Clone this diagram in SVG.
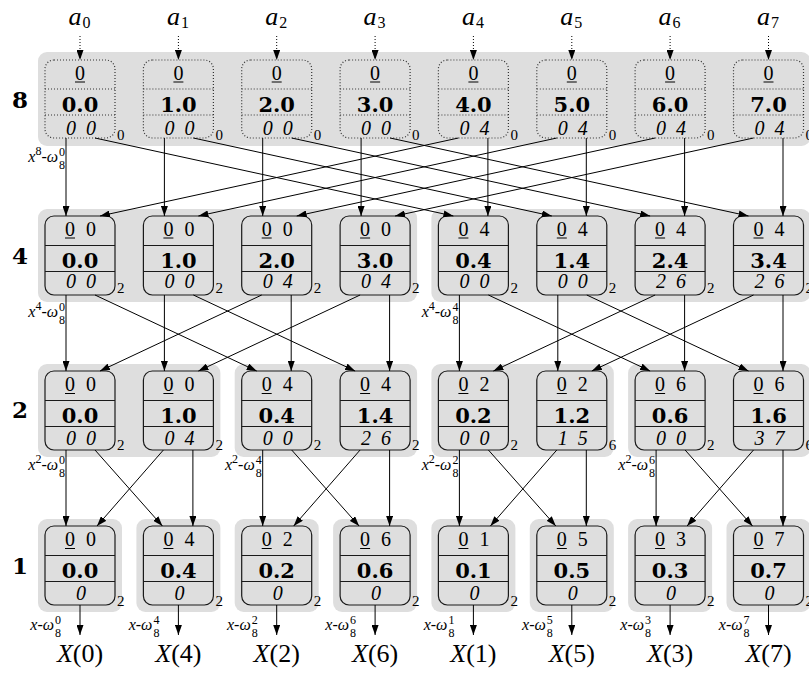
<svg xmlns="http://www.w3.org/2000/svg" width="809" height="673" viewBox="0 0 809 673">
<style>
.bg{fill:#dedede}
.box{fill:none;stroke:#1a1a1a;stroke-width:1.2}
.dbox{fill:none;stroke:#333;stroke-width:1.2;stroke-dasharray:1 2}
.dv{stroke:#1a1a1a;stroke-width:1.2}
.dd{stroke:#333;stroke-width:1.2;stroke-dasharray:1 2}
.ul{stroke:#000;stroke-width:1}
text{font-family:"Liberation Serif","Times New Roman",Times,"DejaVu Serif",serif}
.t{font-size:20px;text-anchor:middle}
.m{font-family:"DejaVu Serif",serif;font-weight:bold;font-size:21px;text-anchor:middle}
.b{font-style:italic;font-size:20px;text-anchor:middle}
.s{font-size:15px}
.rl{font-family:"DejaVu Serif",serif;font-weight:bold;font-size:23px;text-anchor:middle}
.c{stroke:#000;stroke-width:1;fill:none;marker-end:url(#ah)}
.dc{stroke:#000;stroke-width:1;fill:none;stroke-dasharray:1 2;marker-end:url(#ah)}
.lab{font-size:16px;text-anchor:end}
.sm{font-size:12px;text-anchor:middle}
.i{font-style:italic}
.big{font-size:26px;text-anchor:middle}
.ai{font-style:italic;font-size:26px;text-anchor:middle}
.as{font-size:16px}
</style>
<defs>
<marker id="ah" viewBox="0 0 10 7" refX="10" refY="3.5" markerWidth="10" markerHeight="7" markerUnits="userSpaceOnUse" orient="auto"><path d="M0,0 L10,3.5 L0,7 z" fill="#000"/></marker>
</defs>

<g id="backgrounds">
<rect class="bg" x="38" y="52" width="772.5" height="94" rx="9"/>
<rect class="bg" x="38" y="209" width="379.1" height="93" rx="9"/>
<rect class="bg" x="431.4" y="209" width="379.1" height="93" rx="9"/>
<rect class="bg" x="38" y="364" width="182.4" height="93" rx="9"/>
<rect class="bg" x="234.7" y="364" width="182.4" height="93" rx="9"/>
<rect class="bg" x="431.4" y="364" width="182.4" height="93" rx="9"/>
<rect class="bg" x="628.1" y="364" width="182.4" height="93" rx="9"/>
<rect class="bg" x="38" y="519" width="84" height="93" rx="9"/>
<rect class="bg" x="136.4" y="519" width="84" height="93" rx="9"/>
<rect class="bg" x="234.7" y="519" width="84" height="93" rx="9"/>
<rect class="bg" x="333.1" y="519" width="84" height="93" rx="9"/>
<rect class="bg" x="431.4" y="519" width="84" height="93" rx="9"/>
<rect class="bg" x="529.8" y="519" width="84" height="93" rx="9"/>
<rect class="bg" x="628.1" y="519" width="84" height="93" rx="9"/>
<rect class="bg" x="726.5" y="519" width="84" height="93" rx="9"/>
</g>

<g id="row-labels">
<text class="rl" x="20" y="108">8</text>
<text class="rl" x="20" y="264">4</text>
<text class="rl" x="20" y="418">2</text>
<text class="rl" x="20" y="574">1</text>
</g>

<g id="inputs">
<text class="ai" x="75" y="25">a</text><text class="as" x="82.5" y="28">0</text>
<text class="ai" x="173.4" y="25">a</text><text class="as" x="180.9" y="28">1</text>
<text class="ai" x="271.7" y="25">a</text><text class="as" x="279.2" y="28">2</text>
<text class="ai" x="370.1" y="25">a</text><text class="as" x="377.6" y="28">3</text>
<text class="ai" x="468.4" y="25">a</text><text class="as" x="475.9" y="28">4</text>
<text class="ai" x="566.8" y="25">a</text><text class="as" x="574.3" y="28">5</text>
<text class="ai" x="665.1" y="25">a</text><text class="as" x="672.6" y="28">6</text>
<text class="ai" x="763.5" y="25">a</text><text class="as" x="771" y="28">7</text>
</g>

<!-- Row 8 -->
<g id="n8_0" transform="translate(80,60)"><rect class="dbox" x="-35" y="0" width="70" height="78" rx="9"/><line class="dd" x1="-35" y1="29" x2="35" y2="29"/><line class="dd" x1="-35" y1="55" x2="35" y2="55"/><text class="t" x="0" y="19.5">0</text><line class="ul" x1="-5" y1="22" x2="5" y2="22"/><text class="m" x="0" y="51.5">0.0</text><text class="b" x="-9" y="75">0</text><text class="b" x="11" y="75">0</text><text class="s" x="37" y="80">0</text></g>
<g id="n8_1" transform="translate(178.4,60)"><rect class="dbox" x="-35" y="0" width="70" height="78" rx="9"/><line class="dd" x1="-35" y1="29" x2="35" y2="29"/><line class="dd" x1="-35" y1="55" x2="35" y2="55"/><text class="t" x="0" y="19.5">0</text><line class="ul" x1="-5" y1="22" x2="5" y2="22"/><text class="m" x="0" y="51.5">1.0</text><text class="b" x="-9" y="75">0</text><text class="b" x="11" y="75">0</text><text class="s" x="37" y="80">0</text></g>
<g id="n8_2" transform="translate(276.7,60)"><rect class="dbox" x="-35" y="0" width="70" height="78" rx="9"/><line class="dd" x1="-35" y1="29" x2="35" y2="29"/><line class="dd" x1="-35" y1="55" x2="35" y2="55"/><text class="t" x="0" y="19.5">0</text><line class="ul" x1="-5" y1="22" x2="5" y2="22"/><text class="m" x="0" y="51.5">2.0</text><text class="b" x="-9" y="75">0</text><text class="b" x="11" y="75">0</text><text class="s" x="37" y="80">0</text></g>
<g id="n8_3" transform="translate(375.1,60)"><rect class="dbox" x="-35" y="0" width="70" height="78" rx="9"/><line class="dd" x1="-35" y1="29" x2="35" y2="29"/><line class="dd" x1="-35" y1="55" x2="35" y2="55"/><text class="t" x="0" y="19.5">0</text><line class="ul" x1="-5" y1="22" x2="5" y2="22"/><text class="m" x="0" y="51.5">3.0</text><text class="b" x="-9" y="75">0</text><text class="b" x="11" y="75">0</text><text class="s" x="37" y="80">0</text></g>
<g id="n8_4" transform="translate(473.4,60)"><rect class="dbox" x="-35" y="0" width="70" height="78" rx="9"/><line class="dd" x1="-35" y1="29" x2="35" y2="29"/><line class="dd" x1="-35" y1="55" x2="35" y2="55"/><text class="t" x="0" y="19.5">0</text><line class="ul" x1="-5" y1="22" x2="5" y2="22"/><text class="m" x="0" y="51.5">4.0</text><text class="b" x="-9" y="75">0</text><text class="b" x="11" y="75">4</text><text class="s" x="37" y="80">0</text></g>
<g id="n8_5" transform="translate(571.8,60)"><rect class="dbox" x="-35" y="0" width="70" height="78" rx="9"/><line class="dd" x1="-35" y1="29" x2="35" y2="29"/><line class="dd" x1="-35" y1="55" x2="35" y2="55"/><text class="t" x="0" y="19.5">0</text><line class="ul" x1="-5" y1="22" x2="5" y2="22"/><text class="m" x="0" y="51.5">5.0</text><text class="b" x="-9" y="75">0</text><text class="b" x="11" y="75">4</text><text class="s" x="37" y="80">0</text></g>
<g id="n8_6" transform="translate(670.1,60)"><rect class="dbox" x="-35" y="0" width="70" height="78" rx="9"/><line class="dd" x1="-35" y1="29" x2="35" y2="29"/><line class="dd" x1="-35" y1="55" x2="35" y2="55"/><text class="t" x="0" y="19.5">0</text><line class="ul" x1="-5" y1="22" x2="5" y2="22"/><text class="m" x="0" y="51.5">6.0</text><text class="b" x="-9" y="75">0</text><text class="b" x="11" y="75">4</text><text class="s" x="37" y="80">0</text></g>
<g id="n8_7" transform="translate(768.5,60)"><rect class="dbox" x="-35" y="0" width="70" height="78" rx="9"/><line class="dd" x1="-35" y1="29" x2="35" y2="29"/><line class="dd" x1="-35" y1="55" x2="35" y2="55"/><text class="t" x="0" y="19.5">0</text><line class="ul" x1="-5" y1="22" x2="5" y2="22"/><text class="m" x="0" y="51.5">7.0</text><text class="b" x="-9" y="75">0</text><text class="b" x="11" y="75">4</text><text class="s" x="37" y="80">0</text></g>

<!-- Row 4 -->
<g id="n4_0" transform="translate(80,216)"><rect class="box" x="-35" y="0" width="70" height="79" rx="9"/><line class="dv" x1="-35" y1="29.5" x2="35" y2="29.5"/><line class="dv" x1="-35" y1="55.5" x2="35" y2="55.5"/><text class="t" x="-10" y="19.5">0</text><line class="ul" x1="-15" y1="22" x2="-5" y2="22"/><text class="t" x="11" y="19.5">0</text><text class="m" x="0" y="51.5">0.0</text><text class="b" x="-9" y="72">0</text><text class="b" x="11" y="72">0</text><text class="s" x="37" y="77">2</text></g>
<g id="n4_1" transform="translate(178.4,216)"><rect class="box" x="-35" y="0" width="70" height="79" rx="9"/><line class="dv" x1="-35" y1="29.5" x2="35" y2="29.5"/><line class="dv" x1="-35" y1="55.5" x2="35" y2="55.5"/><text class="t" x="-10" y="19.5">0</text><line class="ul" x1="-15" y1="22" x2="-5" y2="22"/><text class="t" x="11" y="19.5">0</text><text class="m" x="0" y="51.5">1.0</text><text class="b" x="-9" y="72">0</text><text class="b" x="11" y="72">0</text><text class="s" x="37" y="77">2</text></g>
<g id="n4_2" transform="translate(276.7,216)"><rect class="box" x="-35" y="0" width="70" height="79" rx="9"/><line class="dv" x1="-35" y1="29.5" x2="35" y2="29.5"/><line class="dv" x1="-35" y1="55.5" x2="35" y2="55.5"/><text class="t" x="-10" y="19.5">0</text><line class="ul" x1="-15" y1="22" x2="-5" y2="22"/><text class="t" x="11" y="19.5">0</text><text class="m" x="0" y="51.5">2.0</text><text class="b" x="-9" y="72">0</text><text class="b" x="11" y="72">4</text><text class="s" x="37" y="77">2</text></g>
<g id="n4_3" transform="translate(375.1,216)"><rect class="box" x="-35" y="0" width="70" height="79" rx="9"/><line class="dv" x1="-35" y1="29.5" x2="35" y2="29.5"/><line class="dv" x1="-35" y1="55.5" x2="35" y2="55.5"/><text class="t" x="-10" y="19.5">0</text><line class="ul" x1="-15" y1="22" x2="-5" y2="22"/><text class="t" x="11" y="19.5">0</text><text class="m" x="0" y="51.5">3.0</text><text class="b" x="-9" y="72">0</text><text class="b" x="11" y="72">4</text><text class="s" x="37" y="77">2</text></g>
<g id="n4_4" transform="translate(473.4,216)"><rect class="box" x="-35" y="0" width="70" height="79" rx="9"/><line class="dv" x1="-35" y1="29.5" x2="35" y2="29.5"/><line class="dv" x1="-35" y1="55.5" x2="35" y2="55.5"/><text class="t" x="-10" y="19.5">0</text><line class="ul" x1="-15" y1="22" x2="-5" y2="22"/><text class="t" x="11" y="19.5">4</text><text class="m" x="0" y="51.5">0.4</text><text class="b" x="-9" y="72">0</text><text class="b" x="11" y="72">0</text><text class="s" x="37" y="77">2</text></g>
<g id="n4_5" transform="translate(571.8,216)"><rect class="box" x="-35" y="0" width="70" height="79" rx="9"/><line class="dv" x1="-35" y1="29.5" x2="35" y2="29.5"/><line class="dv" x1="-35" y1="55.5" x2="35" y2="55.5"/><text class="t" x="-10" y="19.5">0</text><line class="ul" x1="-15" y1="22" x2="-5" y2="22"/><text class="t" x="11" y="19.5">4</text><text class="m" x="0" y="51.5">1.4</text><text class="b" x="-9" y="72">0</text><text class="b" x="11" y="72">0</text><text class="s" x="37" y="77">2</text></g>
<g id="n4_6" transform="translate(670.1,216)"><rect class="box" x="-35" y="0" width="70" height="79" rx="9"/><line class="dv" x1="-35" y1="29.5" x2="35" y2="29.5"/><line class="dv" x1="-35" y1="55.5" x2="35" y2="55.5"/><text class="t" x="-10" y="19.5">0</text><line class="ul" x1="-15" y1="22" x2="-5" y2="22"/><text class="t" x="11" y="19.5">4</text><text class="m" x="0" y="51.5">2.4</text><text class="b" x="-9" y="72">2</text><text class="b" x="11" y="72">6</text><text class="s" x="37" y="77">2</text></g>
<g id="n4_7" transform="translate(768.5,216)"><rect class="box" x="-35" y="0" width="70" height="79" rx="9"/><line class="dv" x1="-35" y1="29.5" x2="35" y2="29.5"/><line class="dv" x1="-35" y1="55.5" x2="35" y2="55.5"/><text class="t" x="-10" y="19.5">0</text><line class="ul" x1="-15" y1="22" x2="-5" y2="22"/><text class="t" x="11" y="19.5">4</text><text class="m" x="0" y="51.5">3.4</text><text class="b" x="-9" y="72">2</text><text class="b" x="11" y="72">6</text><text class="s" x="37" y="77">2</text></g>

<!-- Row 2 -->
<g id="n2_0" transform="translate(80,371)"><rect class="box" x="-35" y="0" width="70" height="79" rx="9"/><line class="dv" x1="-35" y1="29.5" x2="35" y2="29.5"/><line class="dv" x1="-35" y1="55.5" x2="35" y2="55.5"/><text class="t" x="-10" y="20">0</text><line class="ul" x1="-15" y1="22.5" x2="-5" y2="22.5"/><text class="t" x="11" y="20">0</text><text class="m" x="0" y="51.5">0.0</text><text class="b" x="-9" y="74">0</text><text class="b" x="11" y="74">0</text><text class="s" x="37" y="79">2</text></g>
<g id="n2_1" transform="translate(178.4,371)"><rect class="box" x="-35" y="0" width="70" height="79" rx="9"/><line class="dv" x1="-35" y1="29.5" x2="35" y2="29.5"/><line class="dv" x1="-35" y1="55.5" x2="35" y2="55.5"/><text class="t" x="-10" y="20">0</text><line class="ul" x1="-15" y1="22.5" x2="-5" y2="22.5"/><text class="t" x="11" y="20">0</text><text class="m" x="0" y="51.5">1.0</text><text class="b" x="-9" y="74">0</text><text class="b" x="11" y="74">4</text><text class="s" x="37" y="79">2</text></g>
<g id="n2_2" transform="translate(276.7,371)"><rect class="box" x="-35" y="0" width="70" height="79" rx="9"/><line class="dv" x1="-35" y1="29.5" x2="35" y2="29.5"/><line class="dv" x1="-35" y1="55.5" x2="35" y2="55.5"/><text class="t" x="-10" y="20">0</text><line class="ul" x1="-15" y1="22.5" x2="-5" y2="22.5"/><text class="t" x="11" y="20">4</text><text class="m" x="0" y="51.5">0.4</text><text class="b" x="-9" y="74">0</text><text class="b" x="11" y="74">0</text><text class="s" x="37" y="79">2</text></g>
<g id="n2_3" transform="translate(375.1,371)"><rect class="box" x="-35" y="0" width="70" height="79" rx="9"/><line class="dv" x1="-35" y1="29.5" x2="35" y2="29.5"/><line class="dv" x1="-35" y1="55.5" x2="35" y2="55.5"/><text class="t" x="-10" y="20">0</text><line class="ul" x1="-15" y1="22.5" x2="-5" y2="22.5"/><text class="t" x="11" y="20">4</text><text class="m" x="0" y="51.5">1.4</text><text class="b" x="-9" y="74">2</text><text class="b" x="11" y="74">6</text><text class="s" x="37" y="79">2</text></g>
<g id="n2_4" transform="translate(473.4,371)"><rect class="box" x="-35" y="0" width="70" height="79" rx="9"/><line class="dv" x1="-35" y1="29.5" x2="35" y2="29.5"/><line class="dv" x1="-35" y1="55.5" x2="35" y2="55.5"/><text class="t" x="-10" y="20">0</text><line class="ul" x1="-15" y1="22.5" x2="-5" y2="22.5"/><text class="t" x="11" y="20">2</text><text class="m" x="0" y="51.5">0.2</text><text class="b" x="-9" y="74">0</text><text class="b" x="11" y="74">0</text><text class="s" x="37" y="79">2</text></g>
<g id="n2_5" transform="translate(571.8,371)"><rect class="box" x="-35" y="0" width="70" height="79" rx="9"/><line class="dv" x1="-35" y1="29.5" x2="35" y2="29.5"/><line class="dv" x1="-35" y1="55.5" x2="35" y2="55.5"/><text class="t" x="-10" y="20">0</text><line class="ul" x1="-15" y1="22.5" x2="-5" y2="22.5"/><text class="t" x="11" y="20">2</text><text class="m" x="0" y="51.5">1.2</text><text class="b" x="-9" y="74">1</text><text class="b" x="11" y="74">5</text><text class="s" x="37" y="79">6</text></g>
<g id="n2_6" transform="translate(670.1,371)"><rect class="box" x="-35" y="0" width="70" height="79" rx="9"/><line class="dv" x1="-35" y1="29.5" x2="35" y2="29.5"/><line class="dv" x1="-35" y1="55.5" x2="35" y2="55.5"/><text class="t" x="-10" y="20">0</text><line class="ul" x1="-15" y1="22.5" x2="-5" y2="22.5"/><text class="t" x="11" y="20">6</text><text class="m" x="0" y="51.5">0.6</text><text class="b" x="-9" y="74">0</text><text class="b" x="11" y="74">0</text><text class="s" x="37" y="79">2</text></g>
<g id="n2_7" transform="translate(768.5,371)"><rect class="box" x="-35" y="0" width="70" height="79" rx="9"/><line class="dv" x1="-35" y1="29.5" x2="35" y2="29.5"/><line class="dv" x1="-35" y1="55.5" x2="35" y2="55.5"/><text class="t" x="-10" y="20">0</text><line class="ul" x1="-15" y1="22.5" x2="-5" y2="22.5"/><text class="t" x="11" y="20">6</text><text class="m" x="0" y="51.5">1.6</text><text class="b" x="-9" y="74">3</text><text class="b" x="11" y="74">7</text><text class="s" x="37" y="79">6</text></g>

<!-- Row 1 -->
<g id="n1_0" transform="translate(80,526)"><rect class="box" x="-35" y="0" width="70" height="79" rx="9"/><line class="dv" x1="-35" y1="29.5" x2="35" y2="29.5"/><line class="dv" x1="-35" y1="55.5" x2="35" y2="55.5"/><text class="t" x="-10" y="20">0</text><line class="ul" x1="-15" y1="22.5" x2="-5" y2="22.5"/><text class="t" x="11" y="20">0</text><text class="m" x="0" y="51.5">0.0</text><text class="b" x="1" y="74">0</text><text class="s" x="37" y="80">2</text></g>
<g id="n1_1" transform="translate(178.4,526)"><rect class="box" x="-35" y="0" width="70" height="79" rx="9"/><line class="dv" x1="-35" y1="29.5" x2="35" y2="29.5"/><line class="dv" x1="-35" y1="55.5" x2="35" y2="55.5"/><text class="t" x="-10" y="20">0</text><line class="ul" x1="-15" y1="22.5" x2="-5" y2="22.5"/><text class="t" x="11" y="20">4</text><text class="m" x="0" y="51.5">0.4</text><text class="b" x="1" y="74">0</text><text class="s" x="37" y="80">2</text></g>
<g id="n1_2" transform="translate(276.7,526)"><rect class="box" x="-35" y="0" width="70" height="79" rx="9"/><line class="dv" x1="-35" y1="29.5" x2="35" y2="29.5"/><line class="dv" x1="-35" y1="55.5" x2="35" y2="55.5"/><text class="t" x="-10" y="20">0</text><line class="ul" x1="-15" y1="22.5" x2="-5" y2="22.5"/><text class="t" x="11" y="20">2</text><text class="m" x="0" y="51.5">0.2</text><text class="b" x="1" y="74">0</text><text class="s" x="37" y="80">2</text></g>
<g id="n1_3" transform="translate(375.1,526)"><rect class="box" x="-35" y="0" width="70" height="79" rx="9"/><line class="dv" x1="-35" y1="29.5" x2="35" y2="29.5"/><line class="dv" x1="-35" y1="55.5" x2="35" y2="55.5"/><text class="t" x="-10" y="20">0</text><line class="ul" x1="-15" y1="22.5" x2="-5" y2="22.5"/><text class="t" x="11" y="20">6</text><text class="m" x="0" y="51.5">0.6</text><text class="b" x="1" y="74">0</text><text class="s" x="37" y="80">2</text></g>
<g id="n1_4" transform="translate(473.4,526)"><rect class="box" x="-35" y="0" width="70" height="79" rx="9"/><line class="dv" x1="-35" y1="29.5" x2="35" y2="29.5"/><line class="dv" x1="-35" y1="55.5" x2="35" y2="55.5"/><text class="t" x="-10" y="20">0</text><line class="ul" x1="-15" y1="22.5" x2="-5" y2="22.5"/><text class="t" x="11" y="20">1</text><text class="m" x="0" y="51.5">0.1</text><text class="b" x="1" y="74">0</text><text class="s" x="37" y="80">2</text></g>
<g id="n1_5" transform="translate(571.8,526)"><rect class="box" x="-35" y="0" width="70" height="79" rx="9"/><line class="dv" x1="-35" y1="29.5" x2="35" y2="29.5"/><line class="dv" x1="-35" y1="55.5" x2="35" y2="55.5"/><text class="t" x="-10" y="20">0</text><line class="ul" x1="-15" y1="22.5" x2="-5" y2="22.5"/><text class="t" x="11" y="20">5</text><text class="m" x="0" y="51.5">0.5</text><text class="b" x="1" y="74">0</text><text class="s" x="37" y="80">2</text></g>
<g id="n1_6" transform="translate(670.1,526)"><rect class="box" x="-35" y="0" width="70" height="79" rx="9"/><line class="dv" x1="-35" y1="29.5" x2="35" y2="29.5"/><line class="dv" x1="-35" y1="55.5" x2="35" y2="55.5"/><text class="t" x="-10" y="20">0</text><line class="ul" x1="-15" y1="22.5" x2="-5" y2="22.5"/><text class="t" x="11" y="20">3</text><text class="m" x="0" y="51.5">0.3</text><text class="b" x="1" y="74">0</text><text class="s" x="37" y="80">2</text></g>
<g id="n1_7" transform="translate(768.5,526)"><rect class="box" x="-35" y="0" width="70" height="79" rx="9"/><line class="dv" x1="-35" y1="29.5" x2="35" y2="29.5"/><line class="dv" x1="-35" y1="55.5" x2="35" y2="55.5"/><text class="t" x="-10" y="20">0</text><line class="ul" x1="-15" y1="22.5" x2="-5" y2="22.5"/><text class="t" x="11" y="20">7</text><text class="m" x="0" y="51.5">0.7</text><text class="b" x="1" y="74">0</text><text class="s" x="37" y="80">2</text></g>

<g id="connectors">
<line class="dc" x1="80" y1="36" x2="80" y2="60"/>
<line class="dc" x1="178.4" y1="36" x2="178.4" y2="60"/>
<line class="dc" x1="276.7" y1="36" x2="276.7" y2="60"/>
<line class="dc" x1="375.1" y1="36" x2="375.1" y2="60"/>
<line class="dc" x1="473.4" y1="36" x2="473.4" y2="60"/>
<line class="dc" x1="571.8" y1="36" x2="571.8" y2="60"/>
<line class="dc" x1="670.1" y1="36" x2="670.1" y2="60"/>
<line class="dc" x1="768.5" y1="36" x2="768.5" y2="60"/>

<line class="c" x1="66" y1="138" x2="66" y2="216"/>
<line class="c" x1="95" y1="138" x2="453.4" y2="216"/>
<line class="c" x1="164.4" y1="138" x2="164.4" y2="216"/>
<line class="c" x1="193.4" y1="138" x2="551.8" y2="216"/>
<line class="c" x1="262.7" y1="138" x2="262.7" y2="216"/>
<line class="c" x1="291.7" y1="138" x2="650.1" y2="216"/>
<line class="c" x1="361.1" y1="138" x2="361.1" y2="216"/>
<line class="c" x1="390.1" y1="138" x2="748.5" y2="216"/>
<line class="c" x1="487.9" y1="138" x2="487.9" y2="216"/>
<line class="c" x1="458.4" y1="138" x2="100" y2="216"/>
<line class="c" x1="586.3" y1="138" x2="586.3" y2="216"/>
<line class="c" x1="556.8" y1="138" x2="198.4" y2="216"/>
<line class="c" x1="684.6" y1="138" x2="684.6" y2="216"/>
<line class="c" x1="655.1" y1="138" x2="296.7" y2="216"/>
<line class="c" x1="783" y1="138" x2="783" y2="216"/>
<line class="c" x1="753.5" y1="138" x2="395.1" y2="216"/>

<line class="c" x1="66" y1="295" x2="66" y2="371"/>
<line class="c" x1="95" y1="295" x2="256.7" y2="371"/>
<line class="c" x1="164.4" y1="295" x2="164.4" y2="371"/>
<line class="c" x1="193.4" y1="295" x2="355.1" y2="371"/>
<line class="c" x1="291.2" y1="295" x2="291.2" y2="371"/>
<line class="c" x1="261.7" y1="295" x2="100" y2="371"/>
<line class="c" x1="389.6" y1="295" x2="389.6" y2="371"/>
<line class="c" x1="360.1" y1="295" x2="198.4" y2="371"/>
<line class="c" x1="459.4" y1="295" x2="459.4" y2="371"/>
<line class="c" x1="488.4" y1="295" x2="650.1" y2="371"/>
<line class="c" x1="557.8" y1="295" x2="557.8" y2="371"/>
<line class="c" x1="586.8" y1="295" x2="748.5" y2="371"/>
<line class="c" x1="684.6" y1="295" x2="684.6" y2="371"/>
<line class="c" x1="655.1" y1="295" x2="493.4" y2="371"/>
<line class="c" x1="783" y1="295" x2="783" y2="371"/>
<line class="c" x1="753.5" y1="295" x2="591.8" y2="371"/>

<line class="c" x1="66" y1="450" x2="66" y2="526"/>
<line class="c" x1="95" y1="450" x2="162.4" y2="526"/>
<line class="c" x1="192.9" y1="450" x2="192.9" y2="526"/>
<line class="c" x1="163.4" y1="450" x2="97" y2="526"/>
<line class="c" x1="262.7" y1="450" x2="262.7" y2="526"/>
<line class="c" x1="291.7" y1="450" x2="359.1" y2="526"/>
<line class="c" x1="389.6" y1="450" x2="389.6" y2="526"/>
<line class="c" x1="360.1" y1="450" x2="293.7" y2="526"/>
<line class="c" x1="459.4" y1="450" x2="459.4" y2="526"/>
<line class="c" x1="488.4" y1="450" x2="555.8" y2="526"/>
<line class="c" x1="586.3" y1="450" x2="586.3" y2="526"/>
<line class="c" x1="556.8" y1="450" x2="490.4" y2="526"/>
<line class="c" x1="656.1" y1="450" x2="656.1" y2="526"/>
<line class="c" x1="685.1" y1="450" x2="752.5" y2="526"/>
<line class="c" x1="783" y1="450" x2="783" y2="526"/>
<line class="c" x1="753.5" y1="450" x2="687.1" y2="526"/>

<line class="c" x1="80" y1="605" x2="80" y2="635"/>
<line class="c" x1="178.4" y1="605" x2="178.4" y2="635"/>
<line class="c" x1="276.7" y1="605" x2="276.7" y2="635"/>
<line class="c" x1="375.1" y1="605" x2="375.1" y2="635"/>
<line class="c" x1="473.4" y1="605" x2="473.4" y2="635"/>
<line class="c" x1="571.8" y1="605" x2="571.8" y2="635"/>
<line class="c" x1="670.1" y1="605" x2="670.1" y2="635"/>
<line class="c" x1="768.5" y1="605" x2="768.5" y2="635"/>
</g>

<g id="poly-labels">
<text class="lab" x="58" y="162"><tspan class="i">x</tspan><tspan font-size="12" dy="-7">8</tspan><tspan dy="7">-</tspan><tspan class="i">ω</tspan></text><text class="sm" x="62" y="156">0</text><text class="sm" x="62" y="169">8</text>
<text class="lab" x="58" y="317"><tspan class="i">x</tspan><tspan font-size="12" dy="-7">4</tspan><tspan dy="7">-</tspan><tspan class="i">ω</tspan></text><text class="sm" x="62" y="311">0</text><text class="sm" x="62" y="324">8</text>
<text class="lab" x="451.4" y="317"><tspan class="i">x</tspan><tspan font-size="12" dy="-7">4</tspan><tspan dy="7">-</tspan><tspan class="i">ω</tspan></text><text class="sm" x="455.4" y="311">4</text><text class="sm" x="455.4" y="324">8</text>
<text class="lab" x="58" y="470"><tspan class="i">x</tspan><tspan font-size="12" dy="-7">2</tspan><tspan dy="7">-</tspan><tspan class="i">ω</tspan></text><text class="sm" x="62" y="464">0</text><text class="sm" x="62" y="477">8</text>
<text class="lab" x="254.7" y="470"><tspan class="i">x</tspan><tspan font-size="12" dy="-7">2</tspan><tspan dy="7">-</tspan><tspan class="i">ω</tspan></text><text class="sm" x="258.7" y="464">4</text><text class="sm" x="258.7" y="477">8</text>
<text class="lab" x="451.4" y="470"><tspan class="i">x</tspan><tspan font-size="12" dy="-7">2</tspan><tspan dy="7">-</tspan><tspan class="i">ω</tspan></text><text class="sm" x="455.4" y="464">2</text><text class="sm" x="455.4" y="477">8</text>
<text class="lab" x="648.1" y="470"><tspan class="i">x</tspan><tspan font-size="12" dy="-7">2</tspan><tspan dy="7">-</tspan><tspan class="i">ω</tspan></text><text class="sm" x="652.1" y="464">6</text><text class="sm" x="652.1" y="477">8</text>

<text class="lab" x="54" y="630"><tspan class="i">x</tspan>-<tspan class="i">ω</tspan></text><text class="sm" x="58" y="624">0</text><text class="sm" x="58" y="637">8</text>
<text class="lab" x="152.4" y="630"><tspan class="i">x</tspan>-<tspan class="i">ω</tspan></text><text class="sm" x="156.4" y="624">4</text><text class="sm" x="156.4" y="637">8</text>
<text class="lab" x="250.7" y="630"><tspan class="i">x</tspan>-<tspan class="i">ω</tspan></text><text class="sm" x="254.7" y="624">2</text><text class="sm" x="254.7" y="637">8</text>
<text class="lab" x="349.1" y="630"><tspan class="i">x</tspan>-<tspan class="i">ω</tspan></text><text class="sm" x="353.1" y="624">6</text><text class="sm" x="353.1" y="637">8</text>
<text class="lab" x="447.4" y="630"><tspan class="i">x</tspan>-<tspan class="i">ω</tspan></text><text class="sm" x="451.4" y="624">1</text><text class="sm" x="451.4" y="637">8</text>
<text class="lab" x="545.8" y="630"><tspan class="i">x</tspan>-<tspan class="i">ω</tspan></text><text class="sm" x="549.8" y="624">5</text><text class="sm" x="549.8" y="637">8</text>
<text class="lab" x="644.1" y="630"><tspan class="i">x</tspan>-<tspan class="i">ω</tspan></text><text class="sm" x="648.1" y="624">3</text><text class="sm" x="648.1" y="637">8</text>
<text class="lab" x="742.5" y="630"><tspan class="i">x</tspan>-<tspan class="i">ω</tspan></text><text class="sm" x="746.5" y="624">7</text><text class="sm" x="746.5" y="637">8</text>
</g>

<g id="outputs">
<text class="big" x="80" y="662"><tspan class="i">X</tspan>(0)</text>
<text class="big" x="178.4" y="662"><tspan class="i">X</tspan>(4)</text>
<text class="big" x="276.7" y="662"><tspan class="i">X</tspan>(2)</text>
<text class="big" x="375.1" y="662"><tspan class="i">X</tspan>(6)</text>
<text class="big" x="473.4" y="662"><tspan class="i">X</tspan>(1)</text>
<text class="big" x="571.8" y="662"><tspan class="i">X</tspan>(5)</text>
<text class="big" x="670.1" y="662"><tspan class="i">X</tspan>(3)</text>
<text class="big" x="768.5" y="662"><tspan class="i">X</tspan>(7)</text>
</g>
</svg>
